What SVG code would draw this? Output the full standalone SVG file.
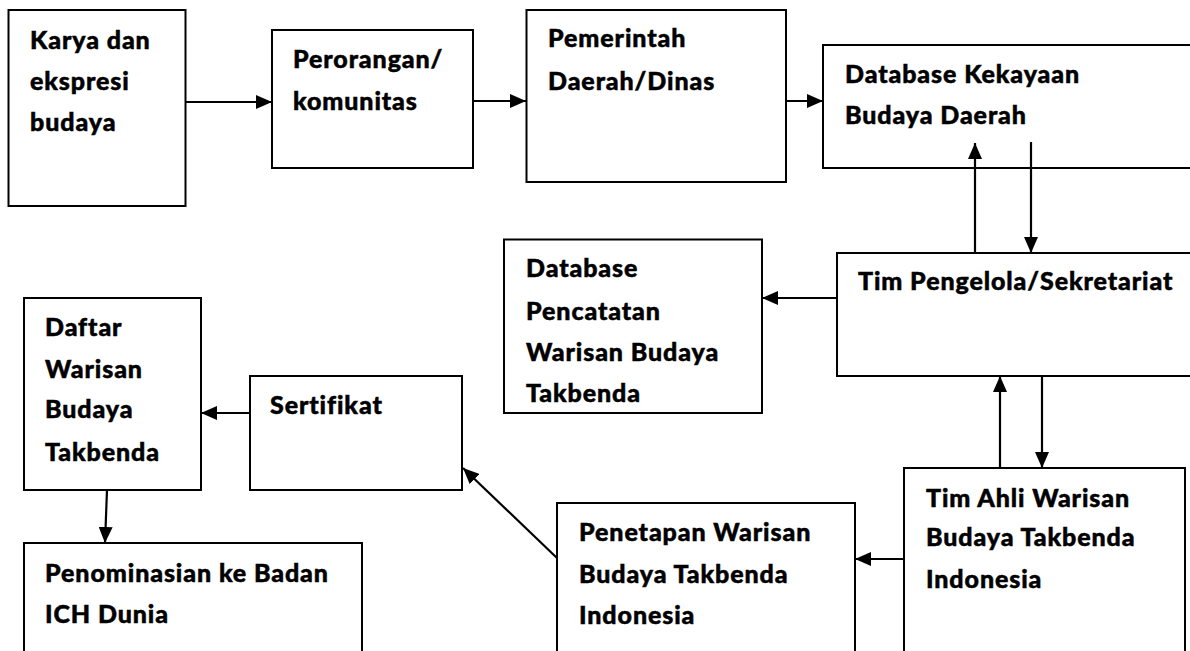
<svg xmlns="http://www.w3.org/2000/svg" width="1190" height="651" viewBox="0 0 1190 651">
<defs>
<style>
.box{fill:#fff;stroke:#000;stroke-width:2}
.t{font-family:Lato,"Open Sans","Liberation Sans",sans-serif;font-weight:900;font-size:25px;letter-spacing:0.9px;fill:#000;stroke:#000;stroke-width:0.5}
.c{stroke:#000;stroke-width:2.2;fill:none;marker-end:url(#ah)}
</style>
<marker id="ah" markerUnits="userSpaceOnUse" markerWidth="16" markerHeight="14" refX="16" refY="7" orient="auto">
<path d="M0,0 L16,7 L0,14 z" fill="#000"/>
</marker>
</defs>
<rect width="1190" height="651" fill="#fff"/>
<g id="n-karya">
<rect class="box" x="8.5" y="10" width="177" height="196"/>
<text class="t" x="30" y="49">Karya dan</text>
<text class="t" x="30" y="90">ekspresi</text>
<text class="t" x="30" y="131">budaya</text>
</g>
<g id="n-perorangan">
<rect class="box" x="272" y="30" width="201" height="138"/>
<text class="t" x="293" y="68">Perorangan/</text>
<text class="t" x="293" y="110">komunitas</text>
</g>
<g id="n-pemerintah">
<rect class="box" x="526.5" y="10" width="259.5" height="172"/>
<text class="t" x="548" y="47">Pemerintah</text>
<text class="t" x="548" y="90">Daerah/Dinas</text>
</g>
<g id="n-dbkekayaan">
<rect class="box" x="823" y="45" width="400" height="123"/>
<text class="t" x="845" y="83">Database Kekayaan</text>
<text class="t" x="845" y="124">Budaya Daerah</text>
</g>
<g id="n-timpengelola">
<rect class="box" x="837" y="253" width="400" height="123"/>
<text class="t" x="858" y="290">Tim Pengelola/Sekretariat</text>
</g>
<g id="n-dbpencatatan">
<rect class="box" x="504" y="239.5" width="258" height="173.5"/>
<text class="t" x="526" y="277">Database</text>
<text class="t" x="526" y="320">Pencatatan</text>
<text class="t" x="526" y="361">Warisan Budaya</text>
<text class="t" x="526" y="402">Takbenda</text>
</g>
<g id="n-daftar">
<rect class="box" x="24" y="298" width="177" height="192"/>
<text class="t" x="45" y="336">Daftar</text>
<text class="t" x="45" y="378">Warisan</text>
<text class="t" x="45" y="418">Budaya</text>
<text class="t" x="45" y="461">Takbenda</text>
</g>
<g id="n-sertifikat">
<rect class="box" x="250" y="376" width="212" height="114"/>
<text class="t" x="270" y="414">Sertifikat</text>
</g>
<g id="n-penominasian">
<rect class="box" x="24" y="543" width="338" height="130"/>
<text class="t" x="45" y="582">Penominasian ke Badan</text>
<text class="t" x="45" y="623">ICH Dunia</text>
</g>
<g id="n-penetapan">
<rect class="box" x="557" y="503" width="298" height="170"/>
<text class="t" x="579" y="541">Penetapan Warisan</text>
<text class="t" x="579" y="583">Budaya Takbenda</text>
<text class="t" x="579" y="624">Indonesia</text>
</g>
<g id="n-timahli">
<rect class="box" x="904" y="468" width="281" height="210"/>
<text class="t" x="926" y="507">Tim Ahli Warisan</text>
<text class="t" x="926" y="546">Budaya Takbenda</text>
<text class="t" x="926" y="588">Indonesia</text>
</g>
<g id="connectors">
<line class="c" x1="186" y1="102" x2="272" y2="102"/>
<line class="c" x1="473" y1="101" x2="526" y2="101"/>
<line class="c" x1="786" y1="101" x2="823" y2="101"/>
<line class="c" x1="975" y1="253" x2="975" y2="143"/>
<line class="c" x1="1031" y1="142" x2="1031" y2="253"/>
<line class="c" x1="837" y1="298" x2="762" y2="298"/>
<line class="c" x1="1000" y1="468" x2="1000" y2="376"/>
<line class="c" x1="1042" y1="376" x2="1042" y2="468"/>
<line class="c" x1="904" y1="559" x2="855" y2="559"/>
<line class="c" x1="557" y1="558" x2="463" y2="468"/>
<line class="c" x1="250" y1="413" x2="201" y2="413"/>
<line class="c" x1="107" y1="490" x2="105" y2="543"/>
</g>
</svg>
